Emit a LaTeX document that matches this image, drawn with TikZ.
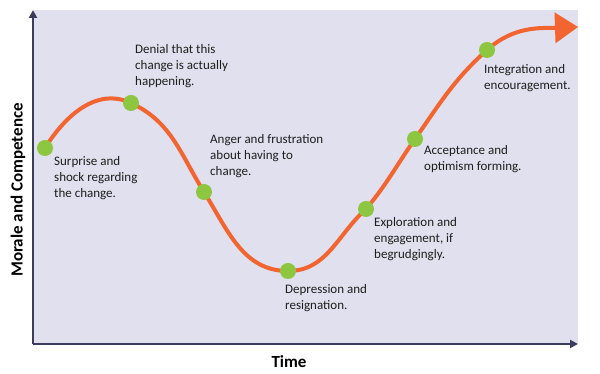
\documentclass[tikz,border=0pt]{standalone}
\usepackage{fontspec}
\setmainfont{Carlito}
\usetikzlibrary{arrows.meta, positioning}

\definecolor{panel}{HTML}{E0E0EE}
\definecolor{axisblue}{HTML}{3B3B5E}
\definecolor{curveorange}{HTML}{F26430}
\definecolor{leaf}{HTML}{8DC641}
\definecolor{ink}{HTML}{1E1E1E}

\begin{document}
\begin{tikzpicture}[x=1pt, y=1pt,
    dot/.style={circle, fill=leaf, minimum size=16pt, inner sep=0pt},
    lbl/.style={anchor=north west, align=left, inner sep=0pt, text=ink,
        font=\fontsize{13}{16}\selectfont},
    axislbl/.style={text=black, font=\bfseries\fontsize{17}{20}\selectfont},
    axis/.style={draw=axisblue, line width=2.5pt, -{Triangle[length=8pt,width=8pt]}},
    curve/.style={draw=curveorange, line width=4pt,
        -{Triangle[length=23pt,width=31pt,line width=0pt]}}]
    \useasboundingbox (0,0) rectangle (600,374);
    \fill[panel] (34,30) rectangle (578,364);

    \coordinate (o) at (33,30);
    \coordinate (y_end) at (33,364);
    \coordinate (x_end) at (578,30);
    \draw[axis] (o) -- (y_end);
    \draw[axis] (o) -- (x_end);

    \coordinate (c_1) at (45,226);
    \coordinate (c_2) at (131,271);
    \coordinate (c_3) at (204,182);
    \coordinate (c_4) at (288,103);
    \coordinate (c_5) at (366,165);
    \coordinate (c_6) at (415,235);
    \coordinate (c_7) at (487,324);
    \coordinate (tip) at (578,347);

    \draw[curve] (c_1) to[out=58,in=155] (c_2)
        to[out=-25,in=122] (c_3)
        to[out=-58,in=180] (c_4)
        to[out=0,in=222] (c_5)
        to[out=50,in=235] (c_6)
        to[out=55,in=222] (c_7)
        to[out=42,in=182] (tip);

    \node[dot] (s_1) at (c_1) {};
    \node[dot] (s_2) at (c_2) {};
    \node[dot] (s_3) at (c_3) {};
    \node[dot] (s_4) at (c_4) {};
    \node[dot] (s_5) at (c_5) {};
    \node[dot] (s_6) at (c_6) {};
    \node[dot] (s_7) at (c_7) {};

    \node[lbl] (l_1) at (54,218) {Surprise and\\shock regarding\\the change.};
    \node[lbl] (l_2) at (135,330) {Denial that this\\change is actually\\happening.};
    \node[lbl] (l_3) at (210,240) {Anger and frustration\\about having to\\change.};
    \node[lbl] (l_4) at (285,90) {Depression and\\resignation.};
    \node[lbl] (l_5) at (374,157) {Exploration and\\engagement, if\\begrudgingly.};
    \node[lbl] (l_6) at (424,229) {Acceptance and\\optimism forming.};
    \node[lbl] (l_7) at (484,310) {Integration and\\encouragement.};

    \node[axislbl, rotate=90] (y_lbl) at (18,184) {Morale and Competence};
    \node[axislbl] (x_lbl) at (289,12) {Time};
\end{tikzpicture}
\end{document}
